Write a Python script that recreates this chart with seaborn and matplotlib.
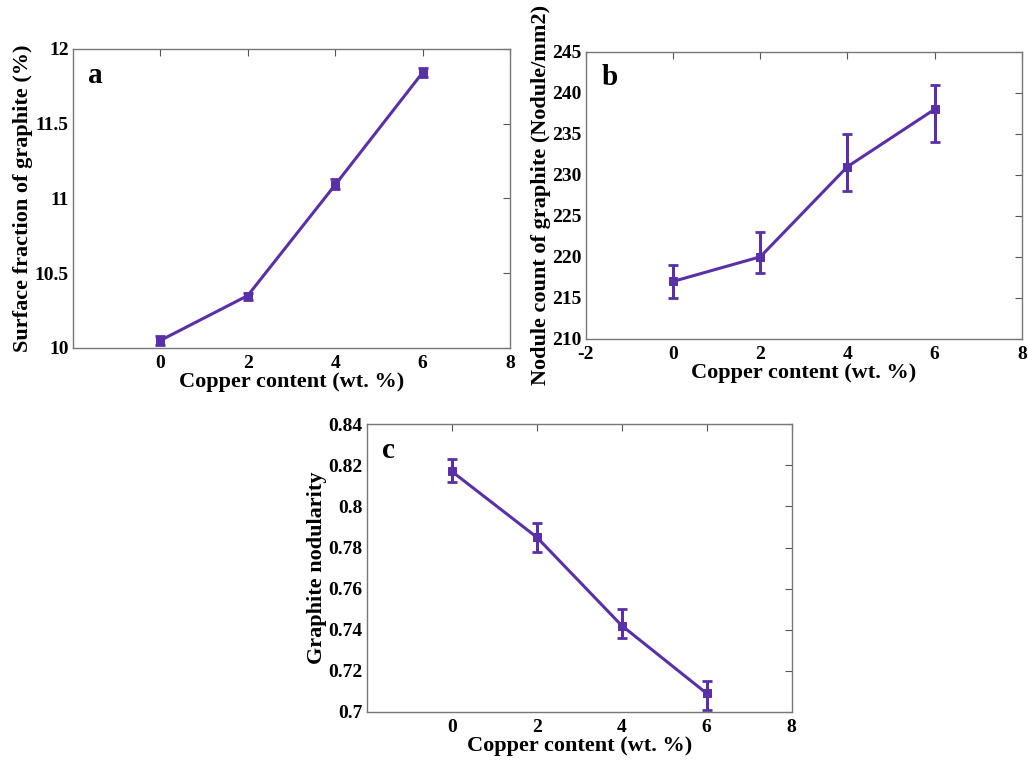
import numpy as np
import pandas as pd
import matplotlib
matplotlib.use('Agg')
import matplotlib.pyplot as plt
import seaborn as sns

# 数据
copper = [0, 2, 4, 6]

surface_frac = [10.05, 10.35, 11.09, 11.84]
surface_lo = [0.03, 0.03, 0.03, 0.03]
surface_hi = [0.03, 0.02, 0.04, 0.03]

nodule_count = [217, 220, 231, 238]
nodule_lo = [2, 2, 3, 4]
nodule_hi = [2, 3, 4, 3]

nodularity = [0.817, 0.785, 0.742, 0.709]
nodularity_lo = [0.005, 0.007, 0.006, 0.008]
nodularity_hi = [0.006, 0.007, 0.008, 0.006]

xlabel = 'Copper content (wt. %)'
color = '#5A30A8'

sns.set_theme(style='white')
plt.rcParams['font.family'] = ['Liberation Serif', 'DejaVu Serif']
plt.rcParams['font.weight'] = 'bold'
plt.rcParams['axes.unicode_minus'] = False

fig = plt.figure(figsize=(10.28, 7.63), dpi=100)


def draw_panel(rect, y, lo, hi, ylim, yticks, ylabel, letter, xticks, yfmt=None):
    ax = fig.add_axes(rect)
    df = pd.DataFrame({'x': copper, 'y': y})
    sns.lineplot(data=df, x='x', y='y', ax=ax, color=color, linewidth=2.2,
                 marker='s', markersize=6, markeredgecolor=color)
    ax.errorbar(copper, y, yerr=[lo, hi], fmt='none', ecolor=color,
                elinewidth=2.2, capsize=3.5, capthick=2)
    ax.set_xlim(-2, 8)
    ax.set_ylim(*ylim)
    ax.set_xticks(xticks)
    ax.set_yticks(yticks)
    if yfmt:
        ax.set_yticklabels([yfmt(v) for v in yticks])
    ax.tick_params(direction='in', top=True, right=True, length=5, width=0.8,
                   color='#555555', labelsize=14, labelcolor='black')
    ax.tick_params(axis='x', pad=5)
    ax.tick_params(axis='y', pad=3)
    for lab in ax.get_xticklabels() + ax.get_yticklabels():
        lab.set_fontweight('bold')
    for s in ax.spines.values():
        s.set_color('#777777')
        s.set_linewidth(1)
    ax.set_xlabel(xlabel, fontsize=16, fontweight='bold', labelpad=0, color='black')
    ax.set_ylabel(ylabel, fontsize=16, fontweight='bold', labelpad=1, color='black')
    ax.text(0.035, 0.91, letter, transform=ax.transAxes, fontsize=21,
            fontweight='bold', ha='left', va='center', color='black')
    return ax


draw_panel([0.071, 0.544, 0.425, 0.392], surface_frac, surface_lo, surface_hi,
           (10, 12), [10, 10.5, 11, 11.5, 12], 'Surface fraction of graphite (%)', 'a',
           [0, 2, 4, 6, 8], yfmt=lambda v: f'{v:g}')

draw_panel([0.570, 0.556, 0.424, 0.376], nodule_count, nodule_lo, nodule_hi,
           (210, 245), [210, 215, 220, 225, 230, 235, 240, 245],
           'Nodule count of graphite (Nodule/mm2)', 'b',
           [-2, 0, 2, 4, 6, 8])

draw_panel([0.357, 0.067, 0.413, 0.377], nodularity, nodularity_lo, nodularity_hi,
           (0.70, 0.84), [0.70, 0.72, 0.74, 0.76, 0.78, 0.80, 0.82, 0.84],
           'Graphite nodularity', 'c', [0, 2, 4, 6, 8], yfmt=lambda v: f'{v:g}')

fig.savefig('out.png', dpi=100)
plt.close(fig)
